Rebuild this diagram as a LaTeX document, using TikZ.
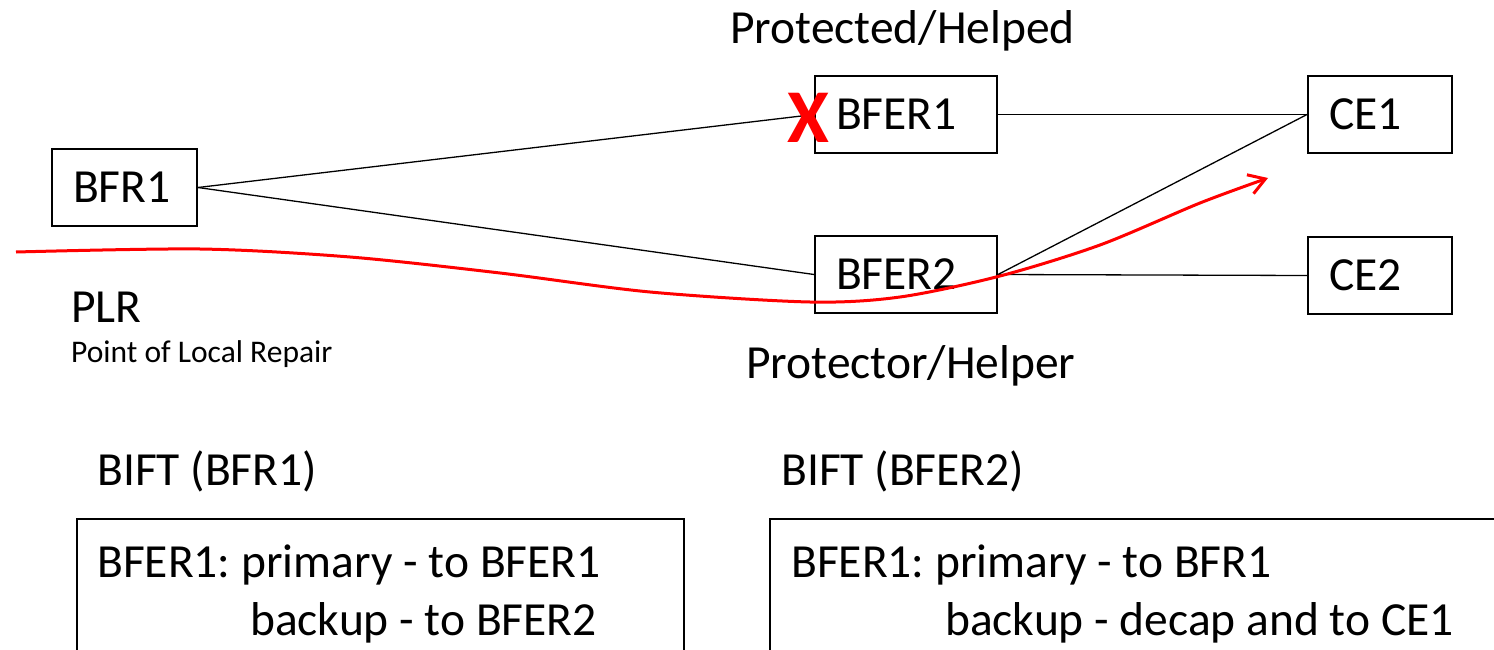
\documentclass[tikz,border=0pt]{standalone}
\usepackage{fontspec}
\setmainfont{Carlito}
\usetikzlibrary{positioning, arrows.meta}
\frenchspacing

\begin{document}
\begin{tikzpicture}[x = 1pt, y = -1pt, > = {Straight Barb[length = 16pt, width = 20pt]},
	router/.style = {draw, line width = 2pt, inner xsep = 21pt, inner ysep = 0pt, minimum height = 77pt, align = left, anchor = north west, font = \fontsize{47.5}{56}\selectfont},
	bigtext/.style = {anchor = base west, inner sep = 0pt, font = \fontsize{47.5}{56}\selectfont},
	smalltext/.style = {anchor = base west, inner sep = 0pt, font = \fontsize{31.5}{38}\selectfont},
	link/.style = {line width = 1.3pt}]

	% Picture frame

	\useasboundingbox (0, 0) rectangle (1494, 650);
	\clip (0, 0) rectangle (1494, 650);

	% Routers

	\node [router, text width = 103pt] (bfr1) at (51, 148) {BFR1};
	\node [router, text width = 140pt] (bfer1) at (814, 75) {BFER1};
	\node [router, text width = 140pt] (bfer2) at (814, 235) {BFER2};
	\node [router, text width = 102pt] (ce1) at (1307, 75) {CE1};
	\node [router, text width = 102pt] (ce2) at (1307, 236) {CE2};

	% Links

	\draw [link] (bfr1.east) -- (bfer1.west);
	\draw [link] (bfr1.east) -- (bfer2.west);
	\draw [link] (bfer1.east) -- (ce1.west);
	\draw [link] (bfer2.east) -- (ce1.west);
	\draw [link] (bfer2.east) -- (ce2.west);

	% Failure of BFER1

	\node [text = red, inner sep = 0pt, font = \fontsize{76}{76}\selectfont\bfseries] (fail) at (808, 118) {X};

	% Repair path

	\draw [->, red, line width = 3pt] plot [smooth] coordinates {(16, 252) (200, 249) (350, 257) (500, 273) (650, 292) (810, 302) (900, 297) (1000, 276) (1100, 245) (1200, 203) (1268, 178)};

	% Roles

	\node [bigtext] (protected) at (730, 44) {Protected/Helped};
	\node [bigtext] (protector) at (746, 378) {Protector/Helper};
	\node [bigtext] (plr) at (71, 322) {PLR};
	\node [smalltext] (plrlong) at (71, 362) {Point of Local Repair};

	% Forwarding tables

	\node [bigtext] (bift1) at (97, 485) {BIFT (BFR1)};
	\node [bigtext] (bift2) at (781, 485) {BIFT (BFER2)};

	\draw [line width = 1.5pt] (77, 519) rectangle (684, 700);
	\draw [line width = 1.5pt] (770, 519) rectangle (1550, 700);

	\node [bigtext] (bift1a) at (97, 577) {BFER1: primary - to BFER1};
	\node [bigtext] (bift1b) at (250, 635) {backup - to BFER2};
	\node [bigtext] (bift2a) at (791, 577) {BFER1: primary - to BFR1};
	\node [bigtext] (bift2b) at (945, 635) {backup - decap and to CE1};

\end{tikzpicture}
\end{document}
